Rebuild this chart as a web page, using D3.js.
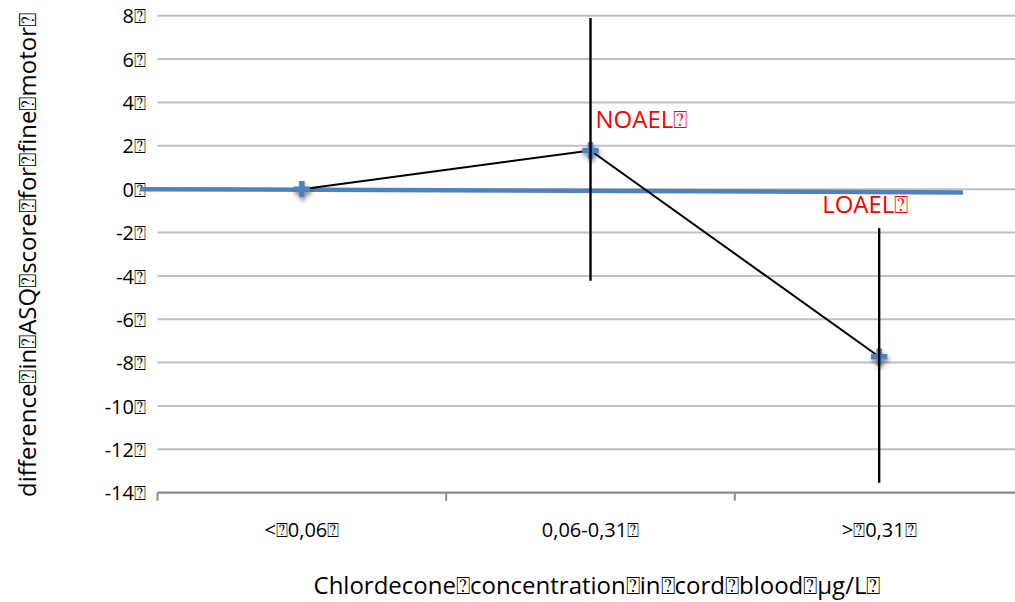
<!DOCTYPE html>
<html>
<head>
<meta charset="utf-8">
<script src="https://cdn.jsdelivr.net/npm/d3@7"></script>
<style>
  html, body { margin: 0; padding: 0; background: #fff; }
  svg { display: block; }
  text { font-family: "Open Sans", Lato, "DejaVu Sans", sans-serif; fill: #000; }
</style>
</head>
<body>
<svg id="chart" width="1015" height="602"></svg>
<script>
// Exposure groups (cord-blood chlordecone) and the estimated difference in ASQ fine-motor score
const categories = ["<\u23700,06\u2370", "0,06-0,31\u2370", ">\u23700,31\u2370"];
const meanDiff   = [0, 1.78, -7.73];
const lowerCI    = [null, -4.23, -13.54];
const upperCI    = [null, 7.89, -1.80];
const yTicks     = [8, 6, 4, 2, 0, -2, -4, -6, -8, -10, -12, -14];
// Reference line across the plot, positioned in category units
const refAt      = [-0.56, 2.29];
const refValue   = [0, -0.15];
// Threshold annotations attached to groups
const noteText   = ["NOAEL\u2370", "LOAEL\u2370"];
const noteGroup  = [1, 2];
const noteValue  = [2.8, -1.1];

const xTitle = "Chlordecone\u2370concentration\u2370in\u2370cord\u2370blood\u2370\u00b5g/L\u2370";
const yTitle = "difference\u2370in\u2370ASQ\u2370score\u2370for\u2370fine\u2370motor\u2370";

const svg = d3.select("#chart");

const x = d3.scaleBand().domain(categories).range([157.5, 1023.5]).paddingInner(0).paddingOuter(0);
const bw = x.bandwidth();
const xc = i => x(categories[i]) + bw / 2;
const xi = d3.scaleLinear().domain([0, 2]).range([xc(0), xc(2)]);
const y = d3.scaleLinear().domain([-14, 8]).range([492.7, 15.7]);

// Shadow under the markers
const defs = svg.append("defs");
const f = defs.append("filter").attr("id", "shadow").attr("x", "-100%").attr("y", "-100%").attr("width", "300%").attr("height", "300%");
f.append("feDropShadow").attr("dx", 1).attr("dy", 3).attr("stdDeviation", 2.2).attr("flood-color", "#000").attr("flood-opacity", 0.45);

// Horizontal gridlines
svg.append("g")
  .selectAll("line")
  .data(yTicks.filter(t => t !== -14))
  .join("line")
  .attr("x1", 157.5).attr("x2", 1015)
  .attr("y1", d => y(d)).attr("y2", d => y(d))
  .attr("stroke", "#c0c0c0").attr("stroke-width", 2);

// Y axis tick labels
const yAxis = svg.append("g")
  .attr("transform", "translate(146,0)")
  .call(d3.axisLeft(y).tickValues(yTicks).tickSize(0).tickPadding(0).tickFormat(d => d + "\u2370"));
yAxis.select(".domain").remove();
yAxis.selectAll("text")
  .attr("font-size", 20)
  .attr("dy", "0.36em")
  .style("font-family", "'Open Sans', 'DejaVu Sans', sans-serif");

// X axis
const xAxis = svg.append("g")
  .attr("transform", `translate(0,${y(-14)})`)
  .call(d3.axisBottom(x).tickSize(0).tickPadding(0));
xAxis.select(".domain").attr("stroke", "#8c8c8c").attr("stroke-width", 2.2)
  .attr("d", `M157.5,0H1015`);
xAxis.selectAll("text")
  .attr("font-size", 20)
  .attr("y", 44)
  .attr("dy", 0)
  .style("font-family", "'Open Sans', 'DejaVu Sans', sans-serif");
// Boundary ticks between groups
xAxis.append("g").selectAll("line")
  .data(categories)
  .join("line")
  .attr("x1", d => x(d)).attr("x2", d => x(d))
  .attr("y1", 0).attr("y2", 8)
  .attr("stroke", "#8c8c8c").attr("stroke-width", 2);

// Reference line
svg.append("line")
  .attr("x1", xi(refAt[0])).attr("y1", y(refValue[0]))
  .attr("x2", xi(refAt[1])).attr("y2", y(refValue[1]))
  .attr("stroke", "#4f81bd").attr("stroke-width", 4.5);

// Line through the group estimates
svg.append("path")
  .datum(meanDiff)
  .attr("d", d3.line().x((d, i) => xc(i)).y(d => y(d)))
  .attr("fill", "none").attr("stroke", "#000").attr("stroke-width", 2);

// Markers
svg.append("g")
  .selectAll("path")
  .data(meanDiff)
  .join("path")
  .attr("transform", (d, i) => `translate(${xc(i)},${y(d)})`)
  .attr("d", d3.symbol().type(d3.symbolCross).size(150))
  .attr("fill", "#4f81bd")
  .attr("filter", "url(#shadow)");

// Error bars
svg.append("g")
  .selectAll("line")
  .data(meanDiff.map((m, i) => ({ i, lo: lowerCI[i], hi: upperCI[i] })).filter(d => d.lo !== null))
  .join("line")
  .attr("x1", d => xc(d.i)).attr("x2", d => xc(d.i))
  .attr("y1", d => y(d.hi)).attr("y2", d => y(d.lo))
  .attr("stroke", "#000").attr("stroke-width", 2.4);

// NOAEL / LOAEL annotations
svg.append("g")
  .selectAll("text")
  .data(noteText)
  .join("text")
  .attr("x", (d, i) => i === 0 ? xc(noteGroup[i]) + 5 : xc(noteGroup[i]) - 57)
  .attr("y", (d, i) => y(noteValue[i]))
  .attr("font-size", 24)
  .style("fill", "#ff0000")
  .text(d => d);

// Axis titles
svg.append("text")
  .attr("x", 597).attr("y", 594)
  .attr("text-anchor", "middle")
  .attr("font-size", 24)
  .text(xTitle);

svg.append("text")
  .attr("transform", "translate(36,255) rotate(-90)")
  .attr("text-anchor", "middle")
  .attr("font-size", 24)
  .text(yTitle);
</script>
</body>
</html>
